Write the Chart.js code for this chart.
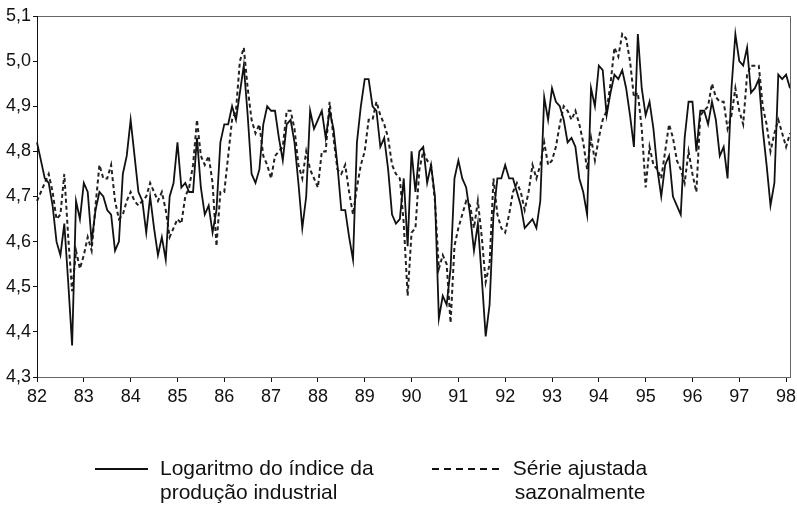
<!DOCTYPE html>
<html>
<head>
<meta charset="utf-8">
<script src="https://cdn.jsdelivr.net/npm/chart.js@4/dist/chart.umd.min.js"></script>
<style>
  body { margin: 0; background: #fff; }
  #wrap { position: relative; width: 797px; height: 510px; font-family: "Liberation Sans", Arial, sans-serif; color: #111; }
  #chart { position: absolute; left: 0; top: 0; }
  .key { position: absolute; font-size: 21px; line-height: 24px; }
</style>
</head>
<body>
<div id="wrap">
  <canvas id="chart" width="797" height="420"></canvas>
  <svg style="position:absolute;left:0;top:0" width="797" height="510">
    <line x1="95" y1="469" x2="148" y2="469" stroke="#111" stroke-width="2.2"/>
    <line x1="432" y1="469" x2="502" y2="469" stroke="#111" stroke-width="2.2" stroke-dasharray="7 5"/>
  </svg>
  <div class="key" style="left:160px;top:456px">Logaritmo do índice da<br>produção industrial</div>
  <div class="key" style="left:505px;top:456px;width:150px;text-align:center">Série ajustada<br>sazonalmente</div>
</div>
<script>
// monthly, Jan 1982 .. Feb 1998
const years = ['82','83','84','85','86','87','88','89','90','91','92','93','94','95','96','97','98'];

const logIndex = [
  4.82,4.78,4.74,4.73,4.68,4.60,4.57,4.64,4.51,4.37,4.69,4.65,
  4.73,4.71,4.60,4.67,4.71,4.70,4.67,4.66,4.58,4.60,4.75,4.79,
  4.87,4.79,4.71,4.69,4.62,4.70,4.63,4.57,4.61,4.56,4.70,4.73,
  4.82,4.72,4.73,4.71,4.71,4.83,4.72,4.66,4.68,4.62,4.67,4.82,
  4.86,4.86,4.90,4.87,4.93,4.99,4.88,4.75,4.73,4.76,4.86,4.90,
  4.89,4.89,4.83,4.78,4.86,4.87,4.82,4.73,4.63,4.70,4.89,4.85,
  4.87,4.89,4.83,4.89,4.85,4.77,4.67,4.67,4.61,4.56,4.82,4.90,
  4.96,4.96,4.90,4.89,4.81,4.83,4.76,4.66,4.64,4.65,4.74,4.59,
  4.80,4.71,4.80,4.81,4.73,4.77,4.70,4.43,4.48,4.46,4.54,4.74,
  4.78,4.74,4.72,4.66,4.58,4.64,4.52,4.39,4.46,4.66,4.74,4.74,
  4.77,4.74,4.74,4.71,4.68,4.63,4.64,4.65,4.63,4.69,4.92,4.87,
  4.94,4.91,4.90,4.87,4.82,4.83,4.81,4.74,4.71,4.66,4.94,4.90,
  4.99,4.98,4.88,4.93,4.97,4.96,4.98,4.94,4.88,4.81,5.06,4.94,
  4.88,4.91,4.85,4.76,4.70,4.77,4.79,4.70,4.68,4.66,4.83,4.91,
  4.91,4.80,4.89,4.89,4.86,4.91,4.87,4.79,4.81,4.74,4.94,5.06,
  5.00,4.99,5.03,4.93,4.94,4.96,4.85,4.77,4.68,4.73,4.97,4.96,
  4.97,4.94
];

const adjusted = [
  4.69,4.71,4.73,4.75,4.71,4.65,4.66,4.75,4.61,4.49,4.58,4.54,
  4.57,4.61,4.58,4.68,4.77,4.74,4.74,4.77,4.69,4.65,4.66,4.69,
  4.71,4.69,4.68,4.69,4.70,4.73,4.71,4.69,4.71,4.67,4.61,4.63,
  4.65,4.64,4.70,4.72,4.77,4.87,4.79,4.77,4.79,4.73,4.59,4.71,
  4.71,4.79,4.87,4.89,5.00,5.03,4.94,4.87,4.84,4.86,4.79,4.77,
  4.74,4.79,4.80,4.81,4.89,4.89,4.85,4.77,4.74,4.80,4.76,4.74,
  4.72,4.80,4.80,4.91,4.83,4.76,4.75,4.77,4.71,4.66,4.72,4.77,
  4.80,4.87,4.87,4.91,4.88,4.86,4.83,4.77,4.75,4.74,4.64,4.48,
  4.62,4.63,4.76,4.80,4.78,4.77,4.69,4.54,4.57,4.55,4.42,4.59,
  4.63,4.66,4.69,4.68,4.63,4.69,4.61,4.51,4.55,4.74,4.66,4.63,
  4.62,4.66,4.71,4.73,4.71,4.67,4.71,4.77,4.74,4.77,4.82,4.77,
  4.78,4.81,4.86,4.90,4.89,4.87,4.89,4.86,4.82,4.76,4.83,4.78,
  4.83,4.87,4.89,4.95,5.03,5.01,5.06,5.05,5.00,4.92,4.93,4.85,
  4.72,4.81,4.77,4.76,4.74,4.80,4.86,4.83,4.78,4.76,4.73,4.80,
  4.75,4.71,4.88,4.89,4.90,4.95,4.92,4.91,4.91,4.85,4.88,4.94,
  4.89,4.86,4.97,4.99,4.99,4.99,4.90,4.86,4.80,4.84,4.87,4.84,
  4.81,4.84
];

const labels = logIndex.map((v, i) => (i % 12 === 0 ? years[i / 12] : ''));

const frame = {
  id: 'frame',
  afterDraw(chart) {
    const { ctx, chartArea: a } = chart;
    ctx.save();
    ctx.strokeStyle = '#666';
    ctx.lineWidth = 1;
    ctx.strokeRect(a.left + 0.5, a.top + 0.5, a.right - a.left, a.bottom - a.top);
    ctx.strokeStyle = '#111';
    ctx.beginPath();
    ctx.moveTo(a.left + 0.5, a.top);
    ctx.lineTo(a.left + 0.5, a.bottom + 1);
    ctx.stroke();
    ctx.restore();
  }
};

Chart.defaults.font.family = '"Liberation Sans", Arial, sans-serif';
Chart.defaults.color = '#111';

new Chart(document.getElementById('chart'), {
  type: 'line',
  data: {
    labels: labels,
    datasets: [
      { label: 'Logaritmo do índice da produção industrial', data: logIndex,
        borderColor: '#111', borderWidth: 1.8, pointRadius: 0, tension: 0 },
      { label: 'Série ajustada sazonalmente', data: adjusted,
        borderColor: '#222', borderWidth: 2, borderDash: [4, 3], pointRadius: 0, tension: 0 }
    ]
  },
  options: {
    responsive: false,
    animation: false,
    layout: { padding: { top: 16, right: 7, left: 0, bottom: 0 } },
    plugins: { legend: { display: false }, tooltip: { enabled: false } },
    scales: {
      x: {
        offset: false,
        border: { display: false },
        grid: {
          drawOnChartArea: false,
          tickLength: 5,
          color: (c) => (c.index % 12 === 0 ? '#111' : 'rgba(0,0,0,0)')
        },
        ticks: { autoSkip: false, maxRotation: 0, font: { size: 18 }, padding: 4 },
        afterFit: (s) => { s.height = 43; }
      },
      y: {
        min: 4.3, max: 5.1,
        border: { display: false },
        grid: { drawOnChartArea: false, tickLength: 4, color: '#111' },
        ticks: { stepSize: 0.1, font: { size: 18 }, padding: 2,
          callback: (v) => v.toFixed(1).replace('.', ',') },
        afterFit: (s) => { s.width = 37; }
      }
    }
  },
  plugins: [frame]
});
</script>
</body>
</html>
